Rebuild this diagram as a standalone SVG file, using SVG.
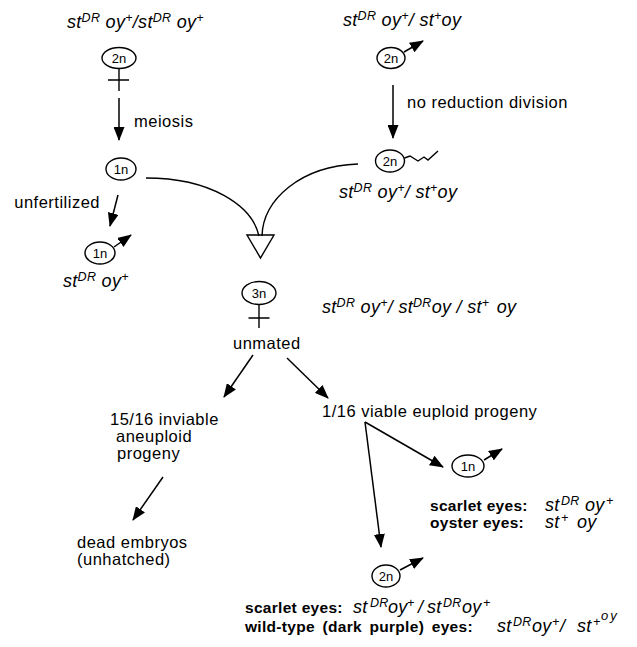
<svg xmlns="http://www.w3.org/2000/svg" width="637" height="647" viewBox="0 0 637 647">
<style>
text{font-family:"Liberation Sans",Arial,sans-serif;fill:#000}
.t{font-size:16.5px;letter-spacing:0.5px}
.b{font-size:15.5px;font-weight:bold;letter-spacing:0.3px}
.g{font-size:18px;font-style:italic;letter-spacing:0.3px}
.s{font-size:12.5px}
.n{font-size:13px;text-anchor:middle}
.o{fill:#fff;stroke:#000;stroke-width:1.4}
.l{fill:none;stroke:#000;stroke-width:1.4}
.a{fill:none;stroke:#000;stroke-width:1.5;marker-end:url(#ah)}
</style>
<defs>
<marker id="ah" markerUnits="userSpaceOnUse" markerWidth="14" markerHeight="11" refX="13" refY="5.5" orient="auto">
<path d="M0,0 L14,5.5 L0,11 z" fill="#000"/>
</marker>
</defs>

<g id="female-2n">
<text class="g" x="67" y="28">st<tspan class="s" dy="-6">DR</tspan><tspan dy="6"> oy</tspan><tspan class="s" dy="-6">+</tspan><tspan dy="6">/st</tspan><tspan class="s" dy="-6">DR</tspan><tspan dy="6"> oy</tspan><tspan class="s" dy="-6">+</tspan></text>
<ellipse class="o" cx="119" cy="58" rx="17" ry="10.5"/>
<text class="n" x="119" y="62.5">2n</text>
<path class="l" d="M119,68.5 V91 M108,80 H129"/>
</g>

<g id="male-2n">
<text class="g" x="343" y="26">st<tspan class="s" dy="-6">DR</tspan><tspan dy="6"> oy</tspan><tspan class="s" dy="-6">+</tspan><tspan dy="6">/ st</tspan><tspan class="s" dy="-6">+</tspan><tspan dy="6">oy</tspan></text>
<ellipse class="o" cx="391" cy="58" rx="14" ry="10.5"/>
<text class="n" x="391" y="62.5">2n</text>
<line class="a" x1="404" y1="52" x2="423" y2="41"/>
</g>

<g id="egg-1n">
<ellipse class="o" cx="121" cy="169" rx="15" ry="11"/>
<text class="n" x="121" y="173.5">1n</text>
</g>

<g id="sperm-2n">
<ellipse class="o" cx="390" cy="161" rx="14.5" ry="11"/>
<text class="n" x="390" y="165.5">2n</text>
<path class="l" d="M404.5,158 L410,156 L418,161 L424,157 L428,160 L438,151"/>
<text class="g" x="339" y="198">st<tspan class="s" dy="-6">DR</tspan><tspan dy="6"> oy</tspan><tspan class="s" dy="-6">+</tspan><tspan dy="6">/ st</tspan><tspan class="s" dy="-6">+</tspan><tspan dy="6">oy</tspan></text>
</g>

<g id="haploid-male">
<ellipse class="o" cx="100" cy="253" rx="15" ry="11"/>
<text class="n" x="100" y="257.5">1n</text>
<line class="a" x1="114" y1="247" x2="131" y2="235"/>
<text class="g" x="63" y="287">st<tspan class="s" dy="-6">DR</tspan><tspan dy="6"> oy</tspan><tspan class="s" dy="-6">+</tspan></text>
</g>

<g id="fusion">
<polygon class="o" points="247,235 274,235 260.5,258"/>
</g>

<g id="female-3n">
<ellipse class="o" cx="259" cy="293" rx="17" ry="11.5"/>
<text class="n" x="259" y="297.5">3n</text>
<path class="l" d="M259,304.5 V328 M248.5,318 H269.5"/>
<text class="g" x="322" y="313">st<tspan class="s" dy="-6">DR</tspan><tspan dy="6"> oy</tspan><tspan class="s" dy="-6">+</tspan><tspan dy="6">/ st</tspan><tspan class="s" dy="-6">DR</tspan><tspan dy="6">oy / st</tspan><tspan class="s" dy="-6">+</tspan><tspan dy="6" dx="2"> oy</tspan></text>
<text class="t" x="233" y="349">unmated</text>
</g>

<g id="inviable">
<text class="t" x="110" y="425">15/16 inviable</text>
<text class="t" x="116" y="442">aneuploid</text>
<text class="t" x="117" y="459">progeny</text>
</g>

<g id="dead">
<text class="t" x="77" y="548">dead embryos</text>
<text class="t" x="77" y="565">(unhatched)</text>
</g>

<g id="viable">
<text class="t" x="322" y="417">1/16 viable euploid progeny</text>
</g>

<g id="male-1n-progeny">
<ellipse class="o" cx="468" cy="466" rx="16" ry="11"/>
<text class="n" x="468" y="470.5">1n</text>
<line class="a" x1="484" y1="460" x2="502" y2="449"/>
<text class="b" x="430" y="511">scarlet eyes:</text>
<text class="g" y="511"><tspan x="545">st</tspan><tspan class="s" x="561" dy="-6">DR</tspan><tspan x="585" dy="6">oy</tspan><tspan class="s" x="606" dy="-6">+</tspan></text>
<text class="b" x="430" y="528">oyster eyes:</text>
<text class="g" y="528"><tspan x="545">st</tspan><tspan class="s" x="561" dy="-6">+</tspan><tspan x="577" dy="6">oy</tspan></text>
</g>

<g id="male-2n-progeny">
<ellipse class="o" cx="386" cy="576" rx="14" ry="11"/>
<text class="n" x="386" y="580.5">2n</text>
<line class="a" x1="400" y1="570" x2="423" y2="558"/>
<text class="b" x="245" y="613">scarlet eyes:</text>
<text class="g" y="613"><tspan x="353">st</tspan><tspan class="s" x="370" dy="-6">DR</tspan><tspan x="388" dy="6">oy</tspan><tspan class="s" x="407" dy="-6">+</tspan><tspan x="418" dy="6">/</tspan><tspan x="427">st</tspan><tspan class="s" x="443" dy="-6">DR</tspan><tspan x="462" dy="6">oy</tspan><tspan class="s" x="483" dy="-6">+</tspan></text>
<text class="b" x="245" y="632" style="word-spacing:3px">wild-type (dark purple) eyes:</text>
<text class="g" y="632"><tspan x="497">st</tspan><tspan class="s" x="513" dy="-6">DR</tspan><tspan x="532" dy="6">oy</tspan><tspan class="s" x="552" dy="-6">+</tspan><tspan x="560" dy="6">/</tspan><tspan x="577">st</tspan><tspan class="s" x="593" dy="-6">+</tspan><tspan x="601" dy="-6" style="font-size:13px;letter-spacing:2px">oy</tspan></text>
</g>

<g id="connectors">
<line class="a" x1="119" y1="98" x2="119" y2="140"/>
<text class="t" x="134" y="127">meiosis</text>
<line class="a" x1="393" y1="85" x2="393" y2="138"/>
<text class="t" x="407" y="108">no reduction division</text>
<line class="a" x1="118" y1="195" x2="110" y2="226"/>
<text class="t" x="100" y="208" text-anchor="end">unfertilized</text>
<path class="l" d="M146,178 C210,178 252,205 259,236"/>
<path class="l" d="M358,164 C300,166 263,200 262,236"/>
<line class="a" x1="253" y1="355" x2="224" y2="397"/>
<line class="a" x1="287" y1="358" x2="328" y2="398"/>
<line class="a" x1="163" y1="477" x2="133" y2="520"/>
<line class="a" x1="365" y1="422" x2="443" y2="467"/>
<line class="a" x1="365" y1="422" x2="381" y2="547"/>
</g>
</svg>
